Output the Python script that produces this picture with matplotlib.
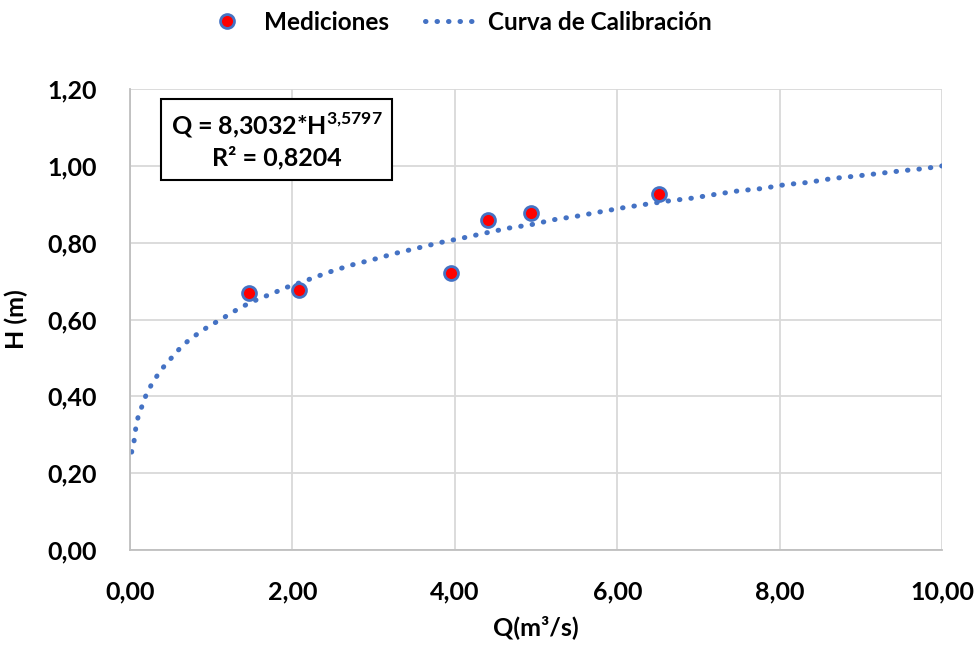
import matplotlib
matplotlib.use("Agg")
import matplotlib.pyplot as plt
from matplotlib.ticker import FuncFormatter

plt.rcParams['font.family'] = ['Lato', 'DejaVu Sans']
plt.rcParams['font.weight'] = 'bold'
plt.rcParams['mathtext.fontset'] = 'custom'
plt.rcParams['mathtext.rm'] = 'Lato:bold'
plt.rcParams['mathtext.bf'] = 'Lato:bold'

# mediciones (Q en m3/s, H en m)
q_med = [1.47, 2.08, 3.95, 4.41, 4.93, 6.51]
h_med = [0.669, 0.678, 0.720, 0.858, 0.878, 0.928]

# curva de calibracion
q_curva = [0.02, 0.05, 0.07, 0.10, 0.15, 0.20, 0.27, 0.35, 0.44, 0.54, 0.63,
           0.74, 0.86, 0.98, 1.11, 1.23, 1.36, 1.49, 1.62, 1.76, 1.89, 2.16,
           2.43, 2.71, 2.99, 3.26, 3.54, 3.81, 4.09, 4.37, 4.66, 4.94, 5.22,
           5.50, 5.78, 6.07, 6.35, 6.64, 6.92, 7.21, 7.49, 7.78, 8.06, 8.35,
           8.64, 8.92, 9.21, 9.49, 9.78, 10.00]
h_curva = [0.255, 0.284, 0.316, 0.347, 0.376, 0.405, 0.433, 0.459, 0.484, 0.507,
           0.529, 0.549, 0.567, 0.584, 0.599, 0.615, 0.631, 0.645, 0.657, 0.668,
           0.681, 0.701, 0.722, 0.741, 0.756, 0.772, 0.786, 0.800, 0.812, 0.825,
           0.838, 0.847, 0.860, 0.869, 0.880, 0.891, 0.900, 0.909, 0.916, 0.926,
           0.935, 0.941, 0.951, 0.957, 0.967, 0.973, 0.980, 0.987, 0.993, 1.000]

x_ticks = [0, 2, 4, 6, 8, 10]
y_ticks = [0.0, 0.2, 0.4, 0.6, 0.8, 1.0, 1.2]

BLUE = '#4472C4'

fig = plt.figure(figsize=(9.79, 6.48), dpi=100)
ax = fig.add_axes([0.1328, 0.1512, 0.8298, 0.7114])

ax.plot(q_curva, h_curva, linestyle=(0, (0.1, 2.2)), dash_capstyle='round',
        color=BLUE, linewidth=3.6, label='Curva de Calibración', zorder=2)
ax.plot(q_med, h_med, linestyle='none', marker='o', markersize=10,
        markerfacecolor='red', markeredgecolor=BLUE, markeredgewidth=2,
        label='Mediciones', zorder=3)

ax.set_xlim(0, 10)
ax.set_ylim(0, 1.2)
ax.set_xticks(x_ticks)
ax.set_yticks(y_ticks)
fmt = FuncFormatter(lambda v, p: f"{v:.2f}".replace('.', ','))
ax.xaxis.set_major_formatter(fmt)
ax.yaxis.set_major_formatter(fmt)
ax.tick_params(axis='x', length=0, labelsize=18, pad=22)
ax.tick_params(axis='y', length=0, labelsize=18, pad=24)
for lab in ax.get_xticklabels() + ax.get_yticklabels():
    lab.set_fontweight('bold')

ax.grid(True, color='#D9D9D9', linewidth=1.3)
ax.set_axisbelow(True)
for s in ['top', 'right']:
    ax.spines[s].set_visible(False)
for s in ['left', 'bottom']:
    ax.spines[s].set_color('#BFBFBF')
    ax.spines[s].set_linewidth(1.3)

ax.set_xlabel('Q(m³/s)', fontsize=18, fontweight='bold', labelpad=8)
ax.set_ylabel('H (m)', fontsize=18, fontweight='bold', labelpad=14)

fig.text(0.2825, 0.7835, 'Q = 8,3032*H$^{3{,}5797}$\nR² = 0,8204',
         fontsize=18, fontweight='bold',
         ha='center', va='center', multialignment='center', linespacing=1.3,
         bbox=dict(boxstyle='square,pad=0.4', facecolor='white',
                   edgecolor='black', linewidth=1.5))

handles, labels = ax.get_legend_handles_labels()
fig.legend(handles[::-1], labels[::-1], loc='center', bbox_to_anchor=(0.466, 0.966),
           ncol=2, frameon=False, handlelength=2.2, handletextpad=0.4,
           columnspacing=1.5, prop={'weight': 'bold', 'size': 17.5})

fig.savefig('out.png', dpi=100)
